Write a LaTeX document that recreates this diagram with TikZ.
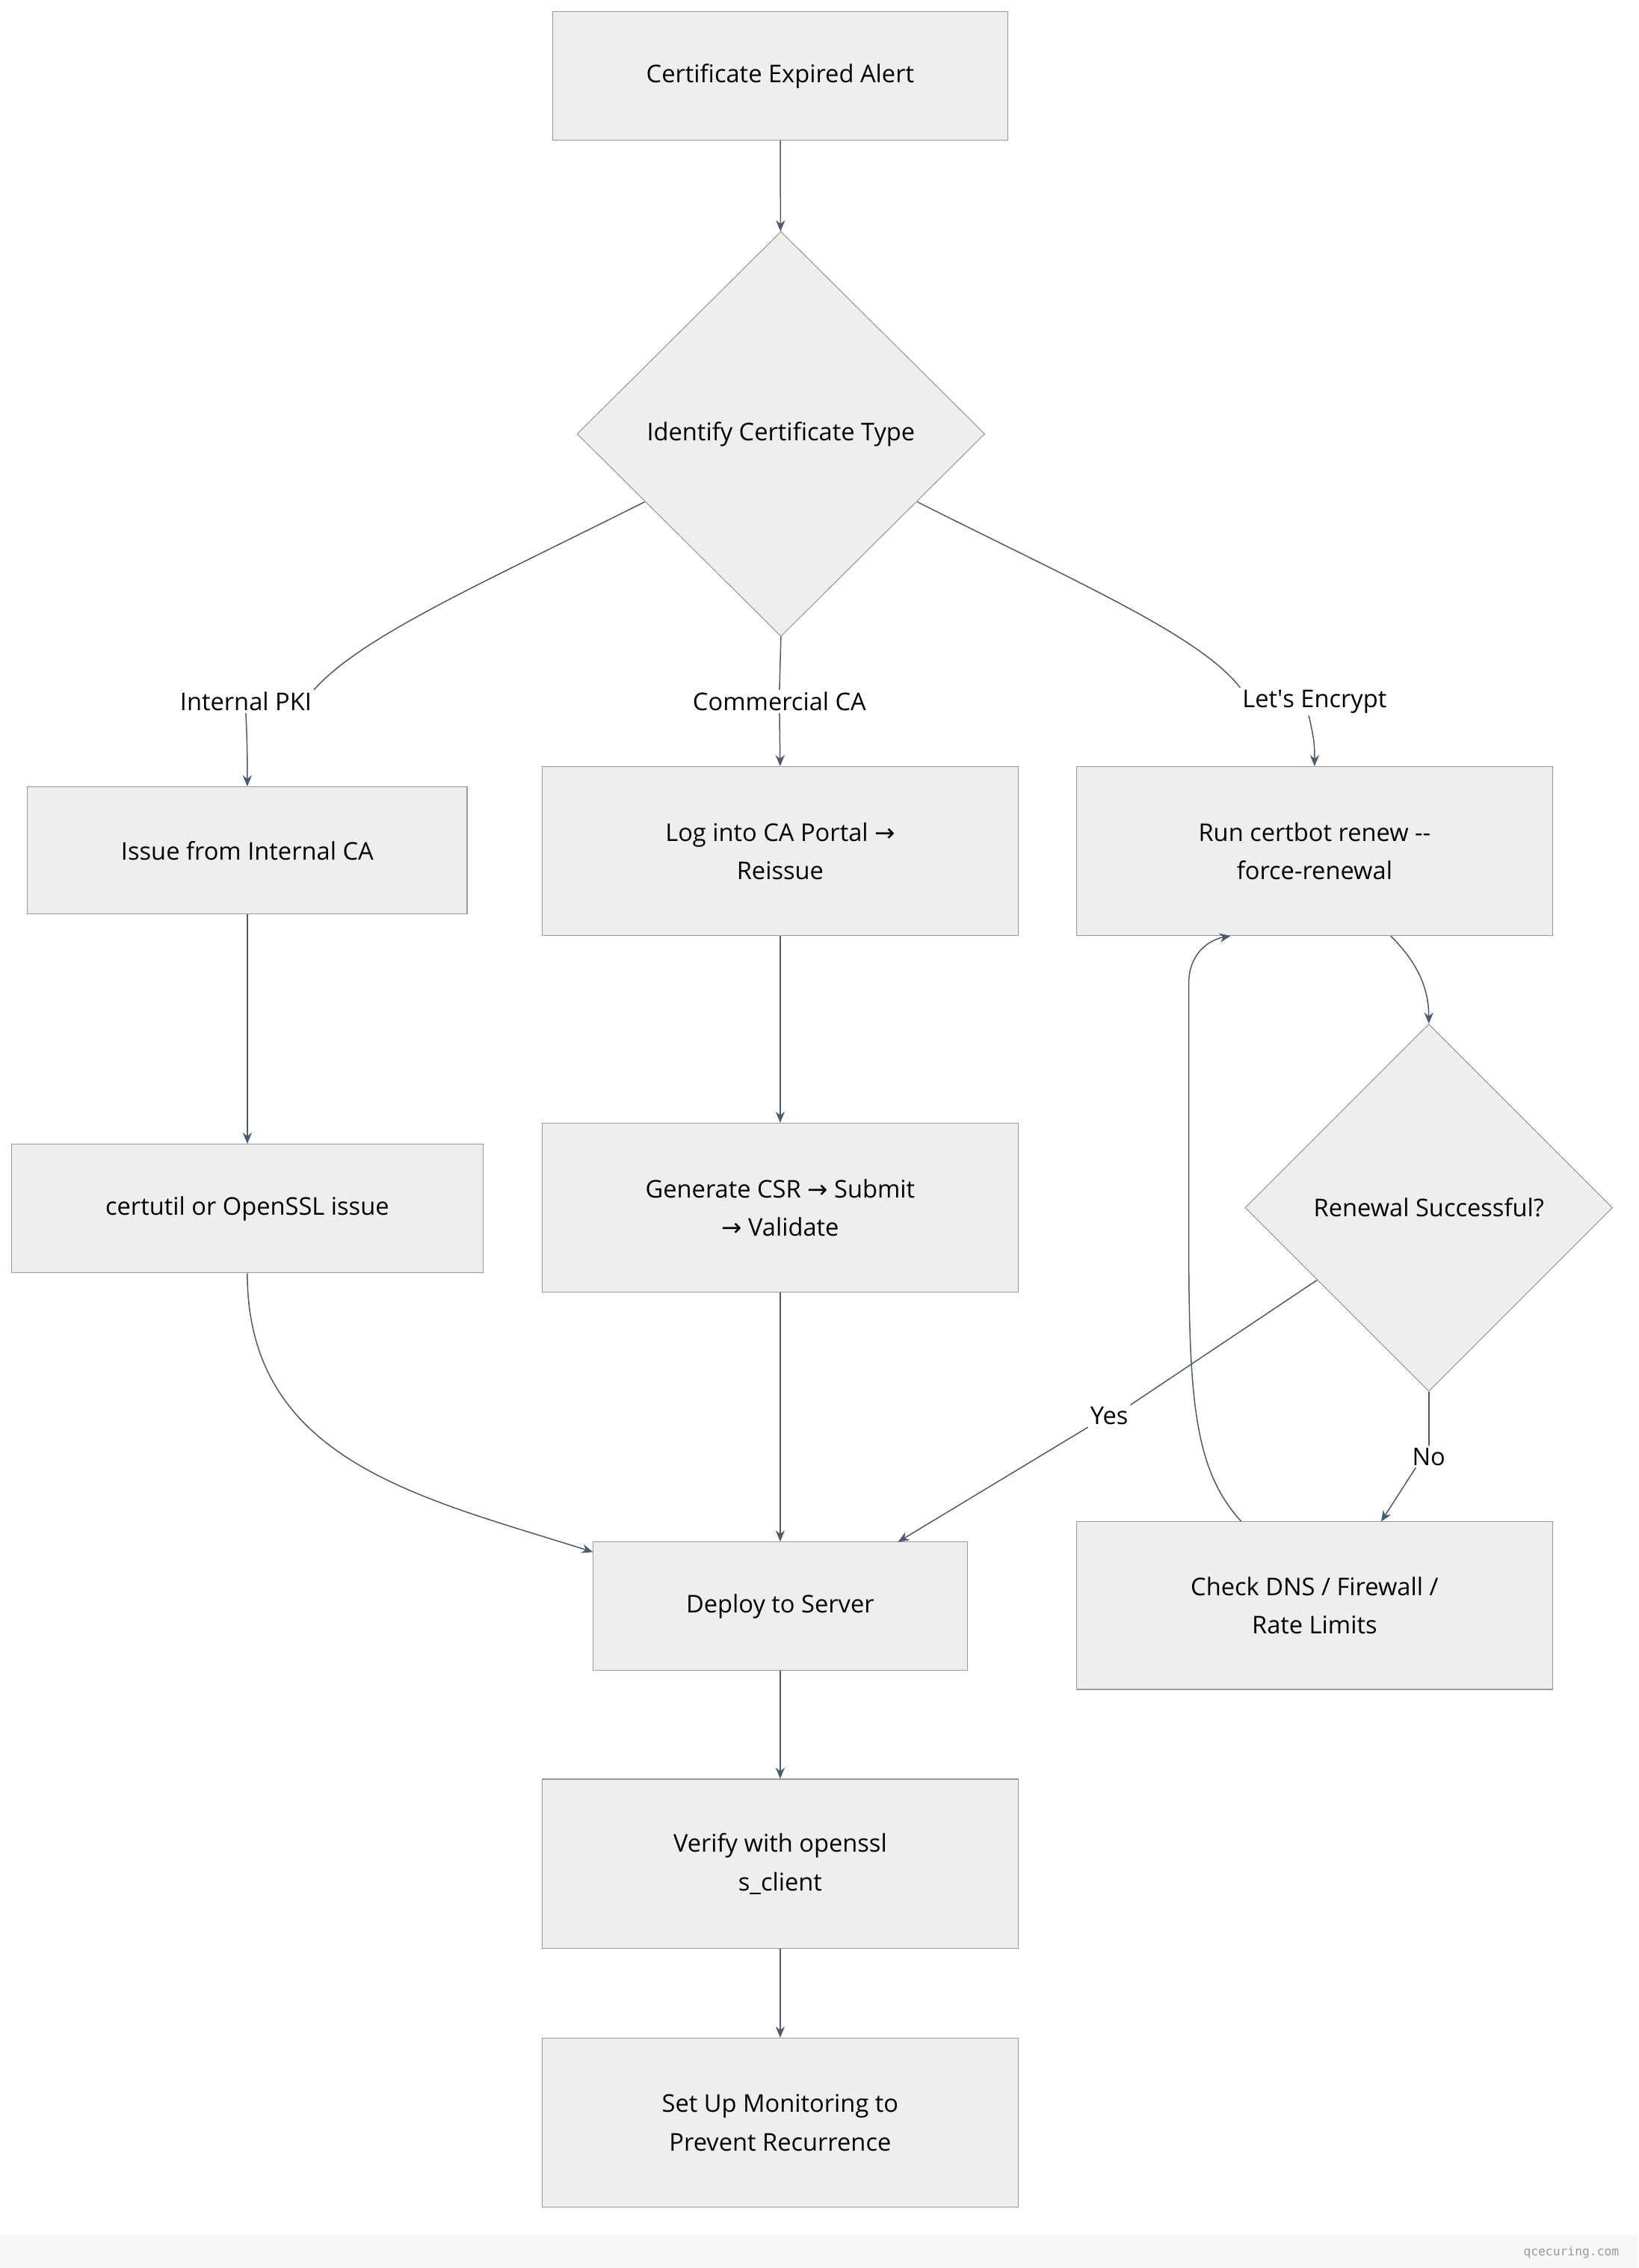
\documentclass[tikz,border=0pt]{standalone}
\usepackage{fontspec}
\setmainfont{Open Sans}
\setmonofont{DejaVu Sans Mono}
\newfontfamily\symfont{DejaVu Sans}
\newcommand{\rarr}{{\symfont →}}
\usetikzlibrary{shapes.geometric,arrows.meta}
\definecolor{boxfill}{HTML}{EEEEEE}
\definecolor{boxline}{HTML}{999999}
\definecolor{edge}{HTML}{4B5A6E}
\begin{document}
\begin{tikzpicture}[x=0.05cm,y=-0.05cm]
  \tikzset{
    box/.style={draw=boxline, fill=boxfill, line width=0.8pt, align=center,
      inner sep=0pt, font=\fontsize{24}{38}\selectfont},
    decide/.style={diamond, draw=boxline, fill=boxfill, line width=0.8pt,
      inner sep=0pt, font=\fontsize{24}{38}\selectfont},
    lbl/.style={font=\fontsize{24}{30}\selectfont, fill=white, inner sep=2pt},
    flow/.style={draw=edge, line width=1.1pt},
    arr/.style={flow, -{Stealth[length=11pt,width=9pt]}},
  }
  \useasboundingbox (0,0) rectangle (1133,1568);
  \fill[white] (0,0) rectangle (1133,1568);
  \fill[black!3] (0,1545) rectangle (1133,1568);
  \node[anchor=east, font=\ttfamily\fontsize{12}{14}\selectfont, text=black!40] (mark) at (1122,1557) {qcecuring.com};

  \node[box, minimum width=15.75cm, minimum height=4.45cm] (alert) at (539.5,52.5) {Certificate Expired Alert};
  \node[decide, minimum width=14.1cm, minimum height=14cm] (type) at (540,300) {Identify Certificate Type};
  \node[lbl] (pki) at (170,485) {Internal PKI};
  \node[lbl] (com) at (539,485) {Commercial CA};
  \node[lbl] (le) at (909,485) {Let\textquotesingle s Encrypt};
  \node[box, minimum width=15.2cm, minimum height=4.4cm] (issue) at (171,588) {Issue from Internal CA};
  \node[box, minimum width=16.45cm, minimum height=5.85cm] (portal) at (539.5,588.5) {Log into CA Portal \rarr\\Reissue};
  \node[box, minimum width=16.45cm, minimum height=5.85cm] (certbot) at (909,588.5) {Run certbot renew -{}-\\force-renewal};
  \node[box, minimum width=16.3cm, minimum height=4.45cm] (certutil) at (171,835.5) {certutil or OpenSSL issue};
  \node[box, minimum width=16.45cm, minimum height=5.85cm] (csr) at (539.5,835) {Generate CSR \rarr{} Submit\\\rarr{} Validate};
  \node[decide, minimum width=12.7cm, minimum height=12.7cm] (ok) at (988,835) {Renewal Successful?};
  \node[box, minimum width=12.95cm, minimum height=4.45cm] (deploy) at (539.5,1110.5) {Deploy to Server};
  \node[box, minimum width=16.45cm, minimum height=5.8cm] (check) at (909,1110) {Check DNS / Firewall /\\Rate Limits};
  \node[box, minimum width=16.45cm, minimum height=5.85cm] (verify) at (539.5,1288.5) {Verify with openssl\\s\_client};
  \node[box, minimum width=16.45cm, minimum height=5.85cm] (monitor) at (539.5,1467.5) {Set Up Monitoring to\\Prevent Recurrence};
  \node[lbl] (yes) at (767,979) {Yes};
  \node[lbl] (no) at (988,1007) {No};
  \coordinate (deployin) at (410,1073);

  % branches
  \draw[arr] (alert) -- (type);
  \draw[flow] (type.west) ++(47,47) .. controls (330,405) and (250,440) .. (pki.north east);
  \draw[arr] (pki.south) .. controls (171,515) and (171,520) .. (issue.north);
  \draw[flow] (type.south) -- (com.north);
  \draw[arr] (com.south) -- (portal.north);
  \draw[flow] (type.east) ++(-47,47) .. controls (750,405) and (830,440) .. (le.north west);
  \draw[arr] (le.south) ++(-4,0) .. controls (909,512) and (909,515) .. (certbot.north);
  \draw[arr] (issue) -- (certutil);
  \draw[arr] (portal) -- (csr);
  \draw[arr] (csr) -- (deploy);
  \draw[arr] (certutil.south) .. controls (171,1010) and (290,1035) .. (deployin);
  \draw[arr] (certbot.south east) ++(-112,0) .. controls (985,670) and (988,690) .. (ok.north);
  \draw[flow] (ok.west) ++(50,50) -- (yes.north east);
  \draw[arr] (yes.south west) -- (621,1066);
  \draw[flow] (ok.south) .. controls (988,980) and (988,985) .. (no.north);
  \draw[arr] (no.south west) ++(4,0) -- (955,1052);
  \draw[arr] (check.north west) ++(114,0) .. controls (820,1010) and (822,950) .. (822,800)
    -- (822,680) .. controls (822,660) and (835,650) .. (851,647);
  \draw[arr] (deploy) -- (verify);
  \draw[arr] (verify) -- (monitor);
\end{tikzpicture}
\end{document}
